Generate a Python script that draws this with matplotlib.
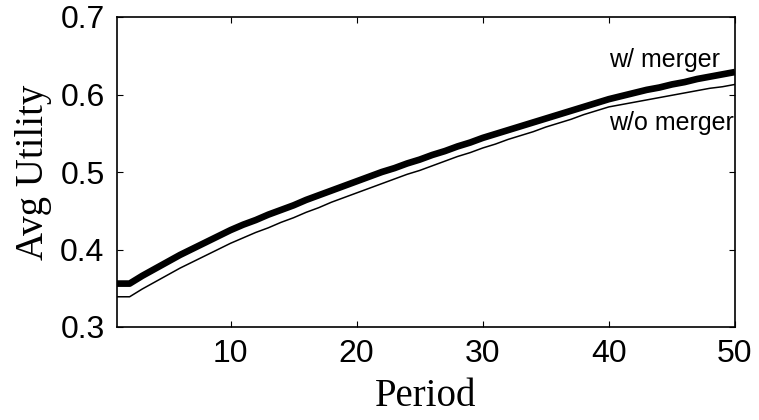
import matplotlib
matplotlib.use("Agg")
import matplotlib.pyplot as plt

periods = list(range(1, 51))
with_merger = [0.356, 0.356, 0.366, 0.375, 0.384, 0.393, 0.401, 0.409, 0.417, 0.425,
               0.432, 0.438, 0.445, 0.451, 0.457, 0.464, 0.470, 0.476, 0.482, 0.488,
               0.494, 0.500, 0.505, 0.511, 0.516, 0.522, 0.527, 0.533, 0.538, 0.544,
               0.549, 0.554, 0.559, 0.564, 0.569, 0.574, 0.579, 0.584, 0.589, 0.594,
               0.598, 0.602, 0.606, 0.609, 0.613, 0.616, 0.620, 0.623, 0.626, 0.629]
without_merger = [0.339, 0.339, 0.349, 0.358, 0.367, 0.376, 0.384, 0.392, 0.400, 0.408,
                  0.415, 0.422, 0.428, 0.435, 0.441, 0.448, 0.454, 0.461, 0.467, 0.473,
                  0.479, 0.485, 0.491, 0.497, 0.502, 0.508, 0.514, 0.520, 0.525, 0.531,
                  0.536, 0.542, 0.547, 0.552, 0.558, 0.563, 0.568, 0.574, 0.579, 0.584,
                  0.587, 0.590, 0.593, 0.596, 0.599, 0.602, 0.605, 0.608, 0.610, 0.613]
xticks = [10, 20, 30, 40, 50]
yticks = [0.3, 0.4, 0.5, 0.6, 0.7]
ytick_labels = ["0.3", "0.4", "0.5", "0.6", "0.7"]

fig = plt.figure(figsize=(7.59, 4.2), dpi=100)
ax = fig.add_axes([117/759, 1-327/420, (735-117)/759, (327-17)/420])

ax.plot(periods, with_merger, color="black", linewidth=4.8, solid_capstyle="butt",
        solid_joinstyle="round")
ax.plot(periods, without_merger, color="black", linewidth=1.1, solid_joinstyle="round")

ax.set_xlim(1, 50)
ax.set_ylim(0.3, 0.7)
ax.set_xticks(xticks)
ax.set_yticks(yticks)
ax.set_yticklabels(ytick_labels)

sans = "Liberation Sans"
serif = "Liberation Serif"
ax.tick_params(direction="in", length=4.5, width=0.8, top=True, right=True,
               labelsize=23, pad=9)
for lab in ax.get_xticklabels() + ax.get_yticklabels():
    lab.set_fontfamily(sans)
for s in ax.spines.values():
    s.set_linewidth(1.2)

ax.set_xlabel("Period", fontfamily=serif, fontsize=28, labelpad=6)
ax.set_ylabel("Avg Utility", fontfamily=serif, fontsize=28, labelpad=6)

ax.text(40.0, 0.6355, "w/ merger", fontfamily=sans, fontsize=18, ha="left", va="baseline")
ax.text(40.0, 0.554, "w/o merger", fontfamily=sans, fontsize=18, ha="left", va="baseline")

fig.savefig("out.png", dpi=100)
